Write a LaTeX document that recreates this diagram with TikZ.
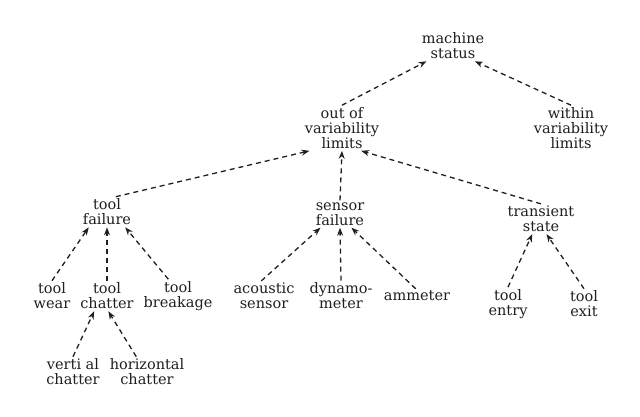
\documentclass[tikz,border=0pt]{standalone}
\usepackage{fontspec}
\setmainfont{DejaVu Serif}
\usetikzlibrary{arrows.meta}
\usepackage{xcolor}
\definecolor{ink}{rgb}{0.12,0.12,0.12}

\begin{document}
\begin{tikzpicture}[
		x=1pt, y=-1pt,
		t/.style = {align=center, inner sep=2pt, text=ink, font=\fontsize{14.5}{15}\selectfont},
		r/.style = {-{Stealth[length=8pt, width=6pt]}, draw=ink, line width=1.3pt, dash pattern=on 5pt off 4pt}
		]
		\useasboundingbox[fill=white] (0, 0) rectangle (640, 416);
		
		%Nodes
		\node[t]	(ms)	at	(453, 46)	{machine\\status};
		\node[t]	(out)	at	(342, 128)	{out of\\variability\\limits};
		\node[t]	(wvl)	at	(571, 128)	{within\\variability\\limits};
		\node[t]	(tf)	at	(107, 212)	{tool\\failure};
		\node[t]	(sf)	at	(340, 214)	{sensor\\failure};
		\node[t]	(ts)	at	(541, 219)	{transient\\state};
		\node[t]	(tw)	at	(52, 296)	{tool\\wear};
		\node[t]	(tc)	at	(107, 296)	{tool\\chatter};
		\node[t]	(tb)	at	(178, 296)	{tool\\breakage};
		\node[t]	(as)	at	(264, 296)	{acoustic\\sensor};
		\node[t]	(dm)	at	(341, 296)	{dynamo-\\meter};
		\node[t]	(am)	at	(417, 296)	{ammeter};
		\node[t]	(ten)	at	(508, 304)	{tool\\entry};
		\node[t]	(tex)	at	(584, 304)	{tool\\exit};
		\node[t]	(vc)	at	(73, 372)	{verti al\\chatter};
		\node[t]	(hc)	at	(147, 372)	{horizontal\\chatter};
		
		%Lines
		\draw[r]	(out.north)	to	(ms.-150);
		\draw[r]	(wvl.north)	to	(ms.-35);
		\draw[r]	(tf.60)		to	(out.-145);
		\draw[r]	(sf.north)	to	(out.south);
		\draw[r]	(ts.north)	to	(out.-50);
		\draw[r]	(tw.north)	to	(tf.-140);
		\draw[r]	(tc.north)	to	(tf.south);
		\draw[r]	(tb.120)	to	(tf.-40);
		\draw[r]	(as.100)	to	(sf.-145);
		\draw[r]	(dm.north)	to	(sf.south);
		\draw[r]	(am.100)	to	(sf.-50);
		\draw[r]	(ten.north)	to	(ts.-120);
		\draw[r]	(tex.north)	to	(ts.-70);
		\draw[r]	(vc.north)	to	(tc.-130);
		\draw[r]	(hc.125)	to	(tc.-85);
	\end{tikzpicture}
\end{document}
